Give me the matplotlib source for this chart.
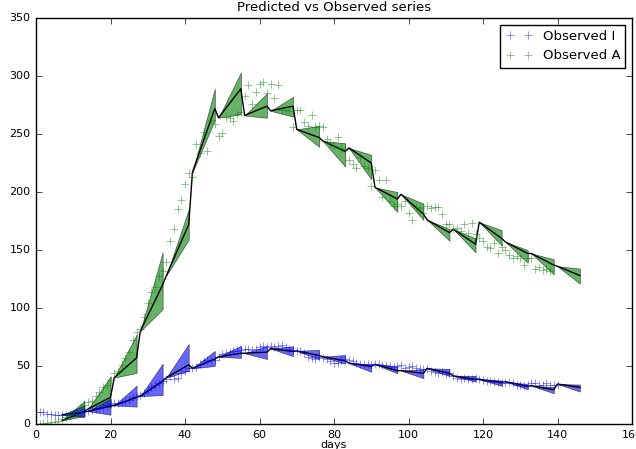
import numpy as np
import matplotlib
matplotlib.use('Agg')
import matplotlib.pyplot as plt

plt.style.use('classic')

# observed series (one value per day)
days_I = np.arange(0, 141)
obs_I = [10, 10, 10, 9, 9, 8, 8, 8, 8, 8,
         9, 10, 10, 11, 11, 12, 13, 14, 15, 16,
         17, 18, 18, 19, 20, 21, 23, 24, 25, 27,
         29, 32, 34, 35, 37, 39, 41, 39, 40, 44,
         46, 48, 48, 49, 52, 54, 55, 55, 55, 58,
         60, 61, 62, 63, 63, 64, 65, 65, 64, 65,
         66, 67, 66, 67, 66, 67, 68, 66, 65, 64,
         63, 63, 61, 58, 57, 56, 58, 57, 56, 54,
         53, 53, 55, 56, 55, 54, 53, 52, 52, 52,
         51, 52, 52, 51, 51, 50, 49, 50, 51, 48,
         49, 50, 48, 47, 47, 47, 46, 45, 44, 45,
         43, 44, 41, 40, 39, 40, 39, 39, 40, 39,
         38, 37, 37, 36, 36, 35, 35, 36, 35, 34,
         34, 33, 34, 35, 35, 34, 34, 35, 34, 34, 34]

days_A = np.arange(0, 139)
obs_A = [0, 0, 1, 1, 2, 2, 3, 4, 6, 8,
         9, 11, 14, 16, 19, 20, 24, 28, 32, 34,
         38, 44, 46, 51, 57, 62, 72, 79, 82, 92,
         104, 114, 118, 128, 132, 140, 158, 168, 185, 193,
         207, 216, 213, 241, 234, 252, 235, 262, 259, 248,
         251, 265, 264, 261, 267, 269, 283, 292, 276, 286,
         293, 295, 285, 293, 281, 292, 271, 271, 270, 256,
         271, 271, 260, 257, 266, 256, 257, 256, 246, 242,
         240, 247, 238, 237, 228, 224, 221, 230, 222, 221,
         205, 219, 210, 196, 210, 192, 188, 190, 188, 192,
         182, 176, 187, 186, 182, 188, 186, 187, 187, 181,
         172, 172, 168, 169, 166, 172, 165, 173, 164, 160,
         158, 153, 152, 156, 147, 153, 150, 146, 143, 145,
         143, 137, 143, 143, 134, 135, 133, 134, 132]

# prediction windows: start day of each 7-day window
seg_start = [7, 14, 21, 28, 35, 42, 49, 56, 63, 70,
             77, 84, 91, 98, 105, 112, 119, 126, 133, 140]
seg_len = 6

# predicted A: value at window start, and mean / lower / upper at window end
A_start = [3, 13, 40, 80, 128, 217, 264, 266, 270, 254,
           244, 238, 204, 198, 176, 168, 174, 157, 147, 136]
A_mean_end = [11, 23, 57, 120, 172, 272, 289, 274, 274, 247,
              235, 225, 194, 181, 165, 155, 160, 147, 137, 128]
A_lo_end = [7, 15, 44, 99, 159, 262, 267, 264, 265, 239,
            222, 211, 183, 176, 158, 148, 154, 139, 129, 121]
A_hi_end = [20, 41, 77, 148, 185, 289, 303, 285, 282, 257,
            242, 232, 200, 190, 168, 160, 167, 150, 142, 134]

# predicted I
I_start = [8, 11, 16, 24, 40, 48, 58, 61, 65, 63,
           58, 52.5, 51.5, 46, 48, 41.5, 38.5, 36.5, 33, 34.5]
I_mean_end = [10.5, 15.5, 23, 37, 51, 56, 61, 62, 62.5, 59,
              54.5, 49.5, 46, 43.7, 43.7, 38.5, 36, 32.5, 29.5, 31.6]
I_lo_end = [6, 8, 15, 25, 46, 50, 57, 56, 58.5, 56,
            52, 45, 43.7, 39.5, 41.4, 36.5, 33, 30, 26.5, 28]
I_hi_end = [16, 22, 33, 52, 69, 63, 67.5, 67, 67, 64,
            59.5, 51.5, 49.5, 47, 47.5, 41.5, 37.5, 34.5, 31.8, 34]


def draw_pred(ax, start, mean_end, lo_end, hi_end, color):
    t_all, m_all = [], []
    for s, v0, v1, l1, h1 in zip(seg_start, start, mean_end, lo_end, hi_end):
        t = [s, s + seg_len]
        ax.fill_between(t, [v0, l1], [v0, h1], color=color, alpha=0.6,
                        edgecolor='k', linewidth=0.5)
        t_all += t
        m_all += [v0, v1]
    ax.plot(t_all, m_all, 'k-', linewidth=1)


fig = plt.figure(figsize=(6.36, 4.49), dpi=100)
ax = fig.add_axes([36/636, 25/449, 596/636, 406/449])

draw_pred(ax, A_start, A_mean_end, A_lo_end, A_hi_end, 'g')
draw_pred(ax, I_start, I_mean_end, I_lo_end, I_hi_end, 'b')

ax.plot(days_I, obs_I, 'b+', alpha=0.6, markersize=6, label='Observed I')
ax.plot(days_A, obs_A, 'g+', alpha=0.6, markersize=6, label='Observed A')

ax.set_xlim(0, 160)
ax.set_ylim(0, 350)
ax.set_title('Predicted vs Observed series', fontsize=9.5)
ax.set_xlabel('days', fontsize=8, labelpad=0)
ax.tick_params(labelsize=8)
ax.legend(loc='upper right', numpoints=2, fontsize=9.5)

fig.savefig('out.png', dpi=100)
